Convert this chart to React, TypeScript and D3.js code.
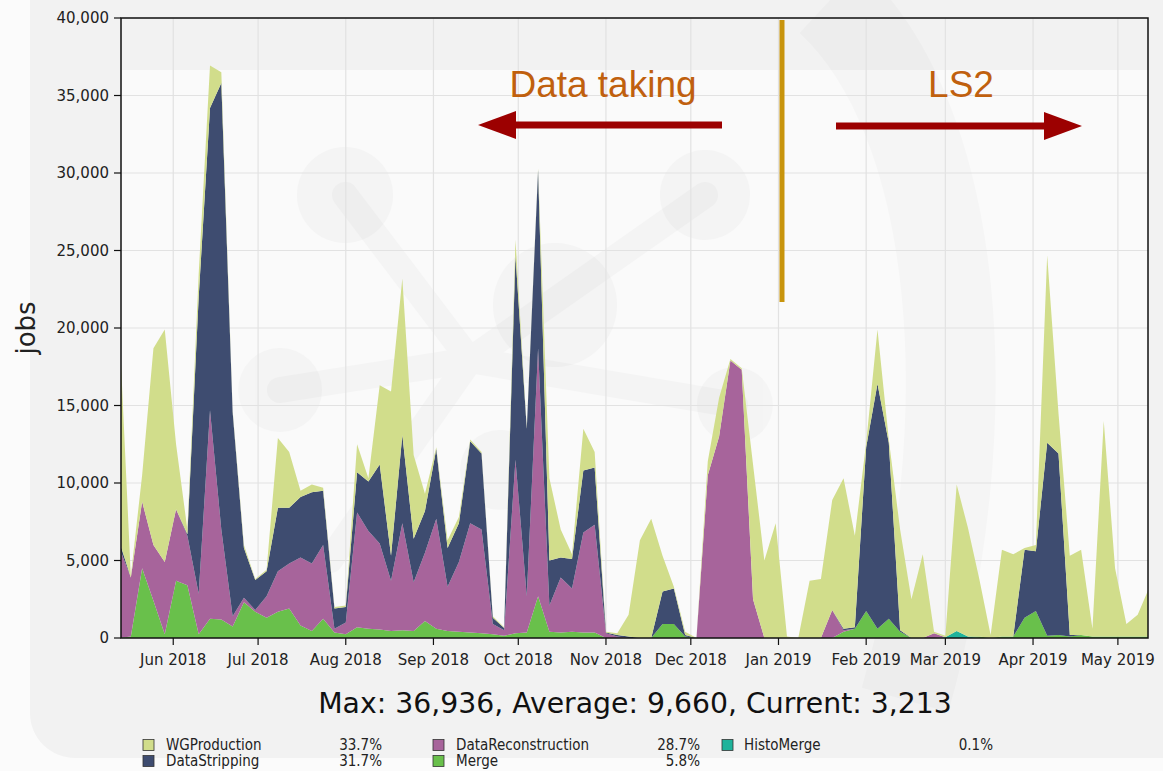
import React from "react";
import * as d3 from "d3";

// ---- data (4-day buckets starting 2018-05-13) ----
const bucketStart = Date.UTC(2018, 4, 13);
const bucketEnd = Date.UTC(2019, 4, 14);
const bucketDays = 4;

const seriesNames = ["WGProduction", "DataStripping", "DataReconstruction", "Merge", "HistoMerge"];
const seriesPct = ["33.7%", "31.7%", "28.7%", "5.8%", "0.1%"];

const wgProduction = [
  13600, 100, 1700, 12700, 15000, 4200, 300, 1500, 2736, 700,
  100, 200, 50, 100, 4500, 3600, 400, 500, 200, 100,
  100, 1800, 200, 5100, 10600, 10100, 5400, 1100, 100, 500,
  400, 100, 100, 100, 50, 1000, 100, 100, 5300, 1800,
  300, 2700, 1000, 50, 100, 1400, 6300, 7700, 2300, 100,
  200, 0, 900, 2500, 100, 100, 8700, 5000, 7400, 100,
  0, 3700, 3800, 7100, 9700, 5900, 300, 3500, 200, 6500,
  2500, 5400, 100, 100, 9450, 7000, 3700, 200, 5600, 5300,
  100, 400, 12100, 2600, 5100, 5500, 500, 13900, 4400, 800,
  1400, 3113,
];
const dataStripping = [
  400, 0, 0, 0, 0, 0, 100, 19150, 19500, 28800,
  13200, 3200, 1950, 1600, 4100, 3600, 3900, 4600, 3500, 1300,
  1000, 2600, 3200, 5100, 1600, 5700, 2800, 2700, 4500, 2500,
  2500, 5300, 4900, 400, 150, 13200, 10800, 11500, 2900, 1300,
  1900, 4000, 3700, 50, 100, 100, 0, 0, 2100, 2300,
  100, 0, 0, 0, 0, 0, 0, 0, 0, 0,
  0, 0, 0, 0, 100, 100, 10550, 15800, 11350, 100,
  0, 0, 0, 0, 0, 0, 0, 0, 0, 0,
  4400, 3850, 12450, 11700, 100, 0, 0, 0, 0, 0,
  0, 0,
];
const dataReconstruction = [
  5800, 3800, 4300, 3600, 4650, 4600, 3200, 2600, 13450, 5800,
  650, 300, 100, 1400, 2600, 2900, 4400, 4350, 4750, 250,
  750, 7400, 6300, 5550, 3250, 6900, 3150, 4400, 7100, 2850,
  4500, 7050, 6700, 650, 350, 11200, 2350, 16000, 1700, 3550,
  2800, 6450, 6950, 300, 100, 0, 0, 0, 0, 0,
  0, 0, 10500, 13000, 17900, 17300, 2500, 0, 0, 0,
  0, 0, 0, 1800, 100, 0, 0, 0, 0, 0,
  0, 0, 300, 0, 0, 0, 0, 0, 0, 0,
  0, 0, 0, 0, 0, 0, 0, 0, 0, 0,
  0, 0,
];
const merge = [
  0, 100, 4500, 2400, 250, 3700, 3400, 250, 1250, 1200,
  750, 2300, 1700, 1300, 1700, 1900, 800, 450, 1250, 350,
  250, 700, 600, 550, 450, 500, 450, 1100, 600, 450,
  400, 350, 300, 250, 150, 300, 350, 2700, 400, 350,
  400, 350, 350, 0, 0, 0, 0, 0, 900, 900,
  100, 0, 0, 0, 0, 0, 0, 0, 0, 0,
  0, 0, 0, 0, 400, 600, 1750, 600, 1250, 400,
  0, 0, 0, 0, 0, 0, 100, 0, 100, 100,
  1300, 1750, 150, 200, 100, 200, 100, 100, 100, 100,
  100, 100,
];
const histoMerge = [
  0, 0, 0, 0, 0, 0, 0, 0, 0, 0,
  0, 0, 0, 0, 0, 0, 0, 0, 0, 0,
  0, 0, 0, 0, 0, 0, 0, 0, 0, 0,
  0, 0, 0, 0, 0, 0, 0, 0, 0, 0,
  0, 0, 0, 0, 0, 0, 0, 0, 0, 0,
  0, 0, 0, 0, 0, 0, 0, 0, 0, 0,
  0, 0, 0, 0, 0, 0, 0, 0, 0, 0,
  0, 0, 0, 50, 450, 100, 0, 0, 0, 0,
  0, 0, 0, 0, 0, 0, 0, 0, 0, 0,
  0, 0,
];

const yTicks = [0, 5000, 10000, 15000, 20000, 25000, 30000, 35000, 40000];
const summaryText = "Max: 36,936, Average: 9,660, Current: 3,213";
const annotationLeft = "Data taking";
const annotationRight = "LS2";
const yLabel = "jobs";

const colors: Record<string, string> = {
  WGProduction: "#d1dd8b",
  DataStripping: "#3e4c70",
  DataReconstruction: "#a7649b",
  Merge: "#69c04b",
  HistoMerge: "#1fb39b",
};

export default function App() {
  const W = 1163, H = 771;
  const left = 121, right = 1148, top = 18, bottom = 638;

  const dates = d3.utcDay.range(new Date(bucketStart), new Date(bucketEnd), bucketDays);
  const rows = dates.map((d, i) => ({
    date: d,
    WGProduction: wgProduction[i] ?? 0,
    DataStripping: dataStripping[i] ?? 0,
    DataReconstruction: dataReconstruction[i] ?? 0,
    Merge: merge[i] ?? 0,
    HistoMerge: histoMerge[i] ?? 0,
  }));

  const x = d3
    .scaleUtc()
    .domain([new Date(Date.UTC(2018, 4, 13)), new Date(Date.UTC(2019, 4, 12))])
    .range([119.5, 1149]);
  const y = d3.scaleLinear().domain([0, 40000]).range([bottom, top]);

  const stackKeys = ["HistoMerge", "Merge", "DataReconstruction", "DataStripping", "WGProduction"];
  const stack = d3.stack<any>().keys(stackKeys);
  const layers = stack(rows as any);
  const area = d3
    .area<any>()
    .x((d) => x(d.data.date))
    .y0((d) => y(d[0]))
    .y1((d) => y(d[1]));

  const monthTicks = d3.utcMonth.range(new Date(Date.UTC(2018, 5, 1)), new Date(Date.UTC(2019, 4, 2)));
  const fmtMonth = d3.utcFormat("%b %Y");
  const fmtNum = d3.format(",");

  const font = "'DejaVu Sans', sans-serif";
  const condensed = "'DejaVu Sans Condensed', 'DejaVu Sans', sans-serif";

  const legendCols = [
    { sx: 143, tx: 166, px: 382 },
    { sx: 433, tx: 456, px: 700 },
    { sx: 722, tx: 744, px: 993 },
  ];
  const legendRows = [745, 761];

  const arrowY1 = 125;
  const arrowY2 = 126;

  return (
    <svg width={W} height={H} style={{ position: "absolute", left: 0, top: 0 }}>
      <defs>
        <clipPath id="plotclip">
          <rect x={left} y={top} width={right - left} height={bottom - top} />
        </clipPath>
      </defs>
      {/* background */}
      <rect x={0} y={0} width={W} height={H} fill="#fbfbfb" />
      <rect x={30} y={-60} width={1300} height={818} rx={45} fill="#f2f2f2" />
      <rect x={left} y={top} width={right - left} height={bottom - top} fill="#fafafa" />
      <rect x={left} y={top} width={right - left} height={52} fill="#f2f2f2" />
      {/* watermark logo */}
      <g fill="#000" opacity={0.02} stroke="none">
        <circle cx={345} cy={195} r={48} />
        <circle cx={705} cy={195} r={45} />
        <circle cx={555} cy={305} r={62} />
        <circle cx={280} cy={390} r={42} />
        <circle cx={500} cy={470} r={40} />
        <circle cx={735} cy={405} r={38} />
      </g>
      <g stroke="#000" opacity={0.02} strokeWidth={26} strokeLinecap="round">
        <line x1={470} y1={360} x2={345} y2={195} />
        <line x1={470} y1={360} x2={705} y2={195} />
        <line x1={470} y1={360} x2={280} y2={390} />
        <line x1={470} y1={360} x2={735} y2={405} />
        <line x1={470} y1={360} x2={330} y2={560} />
      </g>
      <path
        d="M 830 0 C 960 120, 985 420, 905 700"
        fill="none"
        stroke="#000"
        strokeOpacity={0.02}
        strokeWidth={90}
      />
      {/* grid */}
      <g stroke="#e2e2e2" strokeWidth={1.2}>
        {yTicks.map((t) => (
          <line key={"gy" + t} x1={left} x2={right} y1={y(t)} y2={y(t)} />
        ))}
        {monthTicks.map((m) => (
          <line key={"gx" + m.getTime()} x1={x(m)} x2={x(m)} y1={top} y2={bottom} />
        ))}
      </g>
      {/* stacked areas */}
      <g clipPath="url(#plotclip)">
        {layers.map((layer: any) => (
          <path key={layer.key} d={area(layer) || ""} fill={colors[layer.key]} stroke="none" />
        ))}
      </g>
      {/* frame */}
      <rect x={left} y={top} width={right - left} height={bottom - top} fill="none" stroke="#111" strokeWidth={1.5} />
      {/* y axis */}
      <g fontFamily={font} fontSize={15} fill="#222">
        {yTicks.map((t) => (
          <g key={"yt" + t}>
            <line x1={left - 7} x2={left} y1={y(t)} y2={y(t)} stroke="#111" strokeWidth={1.2} />
            <text x={left - 12} y={y(t)} dy="0.35em" textAnchor="end">
              {fmtNum(t)}
            </text>
          </g>
        ))}
      </g>
      <text
        transform={`translate(35,${(top + bottom) / 2}) rotate(-90)`}
        textAnchor="middle"
        fontFamily={font}
        fontSize={26}
        fill="#222"
      >
        {yLabel}
      </text>
      {/* x axis */}
      <g fontFamily={font} fontSize={15} fill="#222">
        {monthTicks.map((m) => (
          <g key={"xt" + m.getTime()}>
            <line x1={x(m)} x2={x(m)} y1={bottom} y2={bottom + 7} stroke="#111" strokeWidth={1.2} />
            <text x={x(m)} y={665} textAnchor="middle">
              {fmtMonth(m)}
            </text>
          </g>
        ))}
      </g>
      {/* summary */}
      <text x={635} y={713} textAnchor="middle" fontFamily={font} fontSize={28.3} fill="#111">
        {summaryText}
      </text>
      {/* legend */}
      <g fontFamily={condensed} fontSize={15} fill="#222">
        {seriesNames.map((name, i) => {
          const col = legendCols[Math.floor(i / 2)];
          const ry = legendRows[i % 2];
          return (
            <g key={"lg" + name}>
              <rect x={col.sx} y={ry - 5.5} width={11} height={11} fill={colors[name]} stroke="#333" strokeWidth={0.8} />
              <text x={col.tx} y={ry} dy="0.35em">
                {name}
              </text>
              <text x={col.px} y={ry} dy="0.35em" textAnchor="end">
                {seriesPct[i]}
              </text>
            </g>
          );
        })}
      </g>
      {/* annotations */}
      <line x1={782} x2={782} y1={20} y2={302} stroke="#c8940c" strokeWidth={5} />
      <text x={603} y={97} textAnchor="middle" fontFamily="'Liberation Sans', Arial, sans-serif" fontSize={37} fill="#c0600e">
        {annotationLeft}
      </text>
      <text x={961} y={97} textAnchor="middle" fontFamily="'Liberation Sans', Arial, sans-serif" fontSize={37} fill="#c0600e">
        {annotationRight}
      </text>
      <g fill="#9c0000" stroke="none">
        <rect x={514} y={arrowY1 - 3.5} width={208} height={7} />
        <polygon points={`478,${arrowY1} 516,${arrowY1 - 14} 516,${arrowY1 + 14}`} />
        <rect x={836} y={arrowY2 - 3.5} width={210} height={7} />
        <polygon points={`1082,${arrowY2} 1044,${arrowY2 - 14} 1044,${arrowY2 + 14}`} />
      </g>
    </svg>
  );
}
